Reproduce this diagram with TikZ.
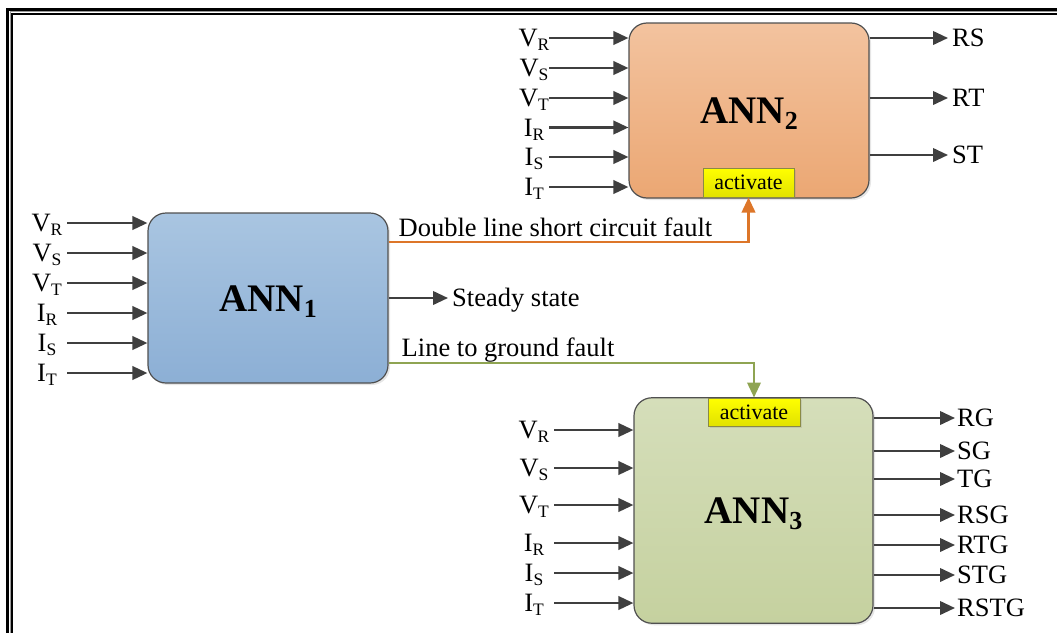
\documentclass[tikz,border=0pt]{standalone}
\usepackage{fontspec}
\setmainfont{Liberation Serif}
\usetikzlibrary{arrows.meta,shadows}
\definecolor{arrgray}{HTML}{3F3F3F}
\definecolor{boxgray}{HTML}{505050}
\definecolor{annAtop}{HTML}{A9C5E1}
\definecolor{annAbot}{HTML}{8CAFD5}
\definecolor{annBtop}{HTML}{F3C39F}
\definecolor{annBbot}{HTML}{EBA773}
\definecolor{annCtop}{HTML}{D5DEBA}
\definecolor{annCbot}{HTML}{C5D19F}
\definecolor{actbot}{HTML}{E2E200}
\definecolor{actborder}{HTML}{8A8A45}
\definecolor{orangeline}{HTML}{DD7629}
\definecolor{greenline}{HTML}{8FA452}
\newcommand\sx[2]{#1\raisebox{-4pt}{\fontsize{17.5}{18}\selectfont #2}}
\newcommand\annsub[1]{\raisebox{-6pt}{\fontsize{26}{26}\selectfont #1}}
\begin{document}
\begin{tikzpicture}[x=1pt,y=-1pt,
  arr/.style={draw=arrgray, line width=2.3pt, -{Triangle[length=15pt,width=13.5pt]}},
  conn/.style={line width=2.2pt},
  box/.style={draw=boxgray, line width=1.2pt, rounded corners=18pt,
    drop shadow={shadow xshift=2pt,shadow yshift=-2pt,opacity=0.2},
    text height=26.4pt, text depth=0pt, inner sep=0pt,
    font=\rmfamily\fontsize{39}{40}\selectfont\bfseries},
  lbl/.style={inner sep=0pt, text height=17.5pt, text depth=0pt,
    font=\rmfamily\fontsize{26.5}{28}\selectfont},
  act/.style={draw=actborder, line width=1pt, top color=yellow, bottom color=actbot,
    inner sep=0pt, font=\rmfamily\fontsize{22}{24}\selectfont,
    drop shadow={shadow xshift=1.5pt,shadow yshift=-1.5pt,opacity=0.2}}]
\useasboundingbox (0,0) rectangle (1057,632);
\clip (0,0) rectangle (1057,632);
% frame
\draw[line width=3pt] (7.5,9) rectangle (1100,700);
\draw[line width=1pt, black!40] (10.3,11.6) rectangle (1100,700);
\draw[line width=2pt] (12.3,14) rectangle (1100,700);

% ANN boxes
\node[box, top color=annAtop, bottom color=annAbot, minimum width=240pt, minimum height=170pt]
  (ann1) at (268,298) {ANN\annsub{1}};
\node[box, top color=annBtop, bottom color=annBbot, minimum width=240pt, minimum height=175pt]
  (ann2) at (749,110.5) {ANN\annsub{2}};
\node[box, top color=annCtop, bottom color=annCbot, minimum width=239pt, minimum height=225.5pt]
  (ann3) at (753.5,510.5) {ANN\annsub{3}};

\node[act, minimum width=91pt, minimum height=29pt] (act2) at (748.5,182.5) {activate};
\node[act, minimum width=92pt, minimum height=28pt] (act3) at (754,412) {activate};

% inputs ANN1
\foreach \y/\a/\b [count=\i] in {223/V/R,253/V/S,283/V/T,313/I/R,343/I/S,373/I/T}{
  \node[lbl] (pa\i) at (47,\y) {\sx{\a}{\b}};
  \draw[arr] ([xshift=20pt]pa\i.center) -- (pa\i.center -| ann1.west);
}
% inputs ANN2
\foreach \y/\a/\b [count=\i] in {38/V/R,68/V/S,98/V/T,127.5/I/R,157/I/S,187/I/T}{
  \node[lbl] (pb\i) at (534,\y) {\sx{\a}{\b}};
  \draw[arr] ([xshift=15pt]pb\i.center) -- (pb\i.center -| ann2.west);
}
% inputs ANN3
\foreach \y/\a/\b [count=\i] in {430/V/R,468/V/S,505/V/T,543/I/R,573/I/S,603/I/T}{
  \node[lbl] (pc\i) at (534,\y) {\sx{\a}{\b}};
  \draw[arr] ([xshift=20pt]pc\i.center) -- (pc\i.center -| ann3.west);
}

% outputs ANN2
\foreach \y/\outtxt [count=\i] in {38/RS,98/RT,155/ST}{
  \node[lbl, anchor=west] (qb\i) at (952,\y) {\outtxt};
  \draw[arr] (qb\i.west -| ann2.east) -- ([xshift=-4pt]qb\i.west);
}
% outputs ANN3
\foreach \y/\outtxt [count=\i] in {418/RG,451/SG,479/TG,515/RSG,545/RTG,575/STG,608/RSTG}{
  \node[lbl, anchor=west] (qc\i) at (957,\y) {\outtxt};
  \draw[arr] (qc\i.west -| ann3.east) -- ([xshift=-2pt]qc\i.west);
}

% ANN1 outputs
\node[lbl, anchor=west] (ss) at (452,298) {Steady state};
\draw[arr] (ann1.east) -- ([xshift=-4pt]ss.west);

\draw[conn, draw=orangeline, -{Triangle[length=15pt,width=13.5pt,fill=orangeline]}]
  ([yshift=56pt]ann1.east) -| (act2.south)
  node[pos=0, lbl, anchor=south west, xshift=9pt, yshift=4pt] (dl) {Double line short circuit fault};
\draw[conn, draw=greenline, -{Triangle[length=15pt,width=13.5pt,fill=greenline]}]
  ([yshift=-65pt]ann1.east) -| (act3.north)
  node[pos=0, lbl, anchor=south west, xshift=12pt, yshift=5pt] (lg) {Line to ground fault};
\end{tikzpicture}
\end{document}
